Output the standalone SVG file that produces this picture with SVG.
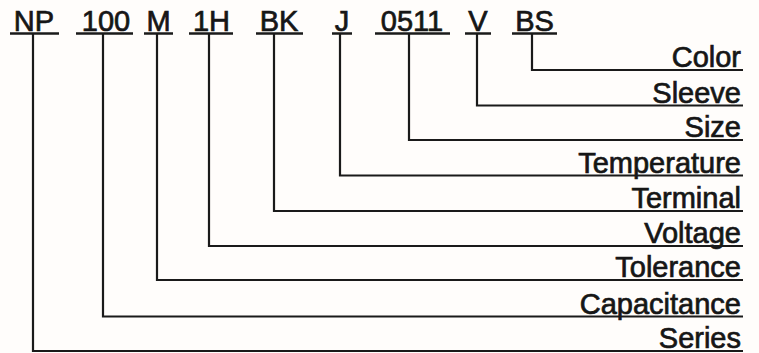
<svg xmlns="http://www.w3.org/2000/svg" width="759" height="353" viewBox="0 0 759 353">
<style>
.code{font-family:"Liberation Sans",Arial,sans-serif;font-size:29px;fill:#161616;stroke:#161616;stroke-width:0.7px;text-anchor:middle}
.lbl{font-family:"Liberation Sans",Arial,sans-serif;font-size:29px;fill:#161616;stroke:#161616;stroke-width:0.7px;text-anchor:end}
.ul{stroke:#1a1a1a;stroke-width:2.5;fill:none}
.conn{stroke:#1a1a1a;stroke-width:2.2;fill:none}
</style>
<rect width="759" height="353" fill="#fffdfb"/>
<g id="code-NP"><text class="code" x="34" y="31">NP</text><line class="ul" x1="10" y1="33.5" x2="59" y2="33.5"/></g>
<g id="code-100"><text class="code" x="106" y="31">100</text><line class="ul" x1="76" y1="33.5" x2="133" y2="33.5"/></g>
<g id="code-M"><text class="code" x="158.5" y="31">M</text><line class="ul" x1="144" y1="33.5" x2="173" y2="33.5"/></g>
<g id="code-1H"><text class="code" x="211.5" y="31">1H</text><line class="ul" x1="189" y1="33.5" x2="233" y2="33.5"/></g>
<g id="code-BK"><text class="code" x="279" y="31">BK</text><line class="ul" x1="256" y1="33.5" x2="303" y2="33.5"/></g>
<g id="code-J"><text class="code" x="342" y="31">J</text><line class="ul" x1="332" y1="33.5" x2="352" y2="33.5"/></g>
<g id="code-0511"><text class="code" x="412" y="31">0511</text><line class="ul" x1="375" y1="33.5" x2="450" y2="33.5"/></g>
<g id="code-V"><text class="code" x="478" y="31">V</text><line class="ul" x1="465" y1="33.5" x2="491" y2="33.5"/></g>
<g id="code-BS"><text class="code" x="534.5" y="31">BS</text><line class="ul" x1="512" y1="33.5" x2="557" y2="33.5"/></g>
<g id="label-color"><text class="lbl" x="741" y="67">Color</text></g>
<g id="label-sleeve"><text class="lbl" x="741" y="102.5">Sleeve</text></g>
<g id="label-size"><text class="lbl" x="741" y="137">Size</text></g>
<g id="label-temperature"><text class="lbl" x="741" y="172.5">Temperature</text></g>
<g id="label-terminal"><text class="lbl" x="741" y="208">Terminal</text></g>
<g id="label-voltage"><text class="lbl" x="741" y="243">Voltage</text></g>
<g id="label-tolerance"><text class="lbl" x="741" y="277">Tolerance</text></g>
<g id="label-capacitance"><text class="lbl" x="741" y="313.5">Capacitance</text></g>
<g id="label-series"><text class="lbl" x="741" y="348">Series</text></g>
<g id="connectors">
<path class="conn" d="M532 34V70H743"/>
<path class="conn" d="M477 34V105.5H743"/>
<path class="conn" d="M409 34V140H743"/>
<path class="conn" d="M340 34V175.5H743"/>
<path class="conn" d="M274 34V211H743"/>
<path class="conn" d="M209 34V246H743"/>
<path class="conn" d="M157 34V280H743"/>
<path class="conn" d="M103 34V316.5H743"/>
<path class="conn" d="M33 34V351H743"/>
</g>
</svg>
